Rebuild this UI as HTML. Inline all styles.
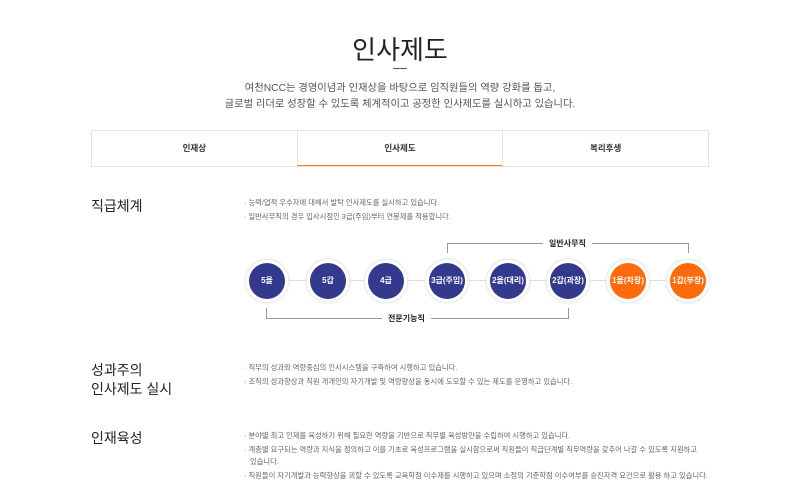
<!DOCTYPE html>
<html><head><meta charset="utf-8"><style>
*{margin:0;padding:0;box-sizing:border-box}
body{width:800px;height:504px;background:#fff;font-family:"Liberation Sans","Noto Sans CJK KR",sans-serif;position:relative;overflow:hidden;color:#222}
.a{position:absolute;white-space:nowrap}
.title{left:0;width:800px;text-align:center;top:30px;font-size:26px;color:#222}
.sub{left:0;width:800px;text-align:center;font-size:10.3px;color:#555}
.tabs{left:91px;top:130px;width:618px;height:37px;border:1px solid #e3e3e3;display:flex}
.tabs div{flex:1;text-align:center;line-height:35px;font-size:8.5px;font-weight:bold;color:#333}
.tabs div+div{border-left:1px solid #e3e3e3}
.tabs .on{border-bottom:1px solid #f47a20;background:#fff}
.h{left:91px;font-size:14px;color:#222;line-height:19px}
.b{left:244px;font-size:7.3px;color:#666}
.c{width:44px;height:44px;border-radius:50%;background:#fff;border:1px solid #eee;box-shadow:0 0 2px #ddd}
.c span{position:absolute;left:3px;top:3px;width:36px;height:36px;border-radius:50%;background:#333a8e;color:#fff;font-size:8px;font-weight:bold;text-align:center;line-height:36px}
.c.o span{background:#ff6a0a}
.ln{background:#999}
.lbl{font-size:8px;font-weight:bold;color:#222;background:#fff;padding:0 6px}
</style></head><body>
<div class="a title">인사제도</div>
<div class="a" style="left:393px;top:68px;width:14px;height:1px;background:#555"></div>
<div class="a sub" style="top:79px">여천NCC는 경영이념과 인재상을 바탕으로 임직원들의 역량 강화를 돕고,</div>
<div class="a sub" style="top:95px">글로벌 리더로 성장할 수 있도록 체계적이고 공정한 인사제도를 실시하고 있습니다.</div>
<div class="a tabs"><div>인재상</div><div class="on">인사제도</div><div>복리후생</div></div>

<div class="a h" style="top:197px">직급체계</div>
<div class="a b" style="top:198px">· 능력/업적 우수자에 대해서 발탁 인사제도를 실시하고 있습니다.</div>
<div class="a b" style="top:212px">· 일반사무직의 경우 입사시점인 3급(주임)부터 연봉제를 적용합니다.</div>

<div class="a ln" style="left:266px;top:280px;width:423px;height:1px;background:#ddd"></div>
<div class="a ln" style="left:447px;top:243px;width:242px;height:1px"></div>
<div class="a ln" style="left:447px;top:243px;width:1px;height:10px"></div>
<div class="a ln" style="left:688px;top:243px;width:1px;height:10px"></div>
<div class="a lbl" style="left:543px;top:238px">일반사무직</div>
<div class="a ln" style="left:266px;top:318px;width:303px;height:1px"></div>
<div class="a ln" style="left:266px;top:308px;width:1px;height:10px"></div>
<div class="a ln" style="left:568px;top:308px;width:1px;height:10px"></div>
<div class="a lbl" style="left:382px;top:313px">전문기능직</div>

<div class="a c" style="left:245px;top:259px"><span>5을</span></div>
<div class="a c" style="left:306px;top:259px"><span>5갑</span></div>
<div class="a c" style="left:364px;top:259px"><span>4급</span></div>
<div class="a c" style="left:425px;top:259px"><span>3급(주임)</span></div>
<div class="a c" style="left:486px;top:259px"><span>2을(대리)</span></div>
<div class="a c" style="left:546px;top:259px"><span>2갑(과장)</span></div>
<div class="a c o" style="left:606px;top:259px"><span>1을(차장)</span></div>
<div class="a c o" style="left:666px;top:259px"><span>1갑(부장)</span></div>

<div class="a h" style="top:361px">성과주의<br>인사제도 실시</div>
<div class="a b" style="top:363px">· 직무의 성과와 역량중심의 인사시스템을 구축하여 시행하고 있습니다.</div>
<div class="a b" style="top:377px">· 조직의 성과향상과 직원 개개인의 자기개발 및 역량향상을 동시에 도모할 수 있는 제도를 운영하고 있습니다.</div>

<div class="a h" style="top:429px">인재육성</div>
<div class="a b" style="top:431px">· 분야별 최고 인재를 육성하기 위해 필요한 역량을 기반으로 직무별 육성방안을 수립하여 시행하고 있습니다.</div>
<div class="a b" style="top:445px">· 계층별 요구되는 역량과 지식을 정의하고 이를 기초로 육성프로그램을 실시함으로써 직원들이 직급단계별 직무역량을 갖추어 나갈 수 있도록 지원하고</div>
<div class="a b" style="top:457px;left:250px">있습니다.</div>
<div class="a b" style="top:471px">· 직원들이 자기개발과 능력향상을 꾀할 수 있도록 교육학점 이수제를 시행하고 있으며 소정의 기준학점 이수여부를 승진자격 요건으로 활용 하고 있습니다.</div>
</body></html>
